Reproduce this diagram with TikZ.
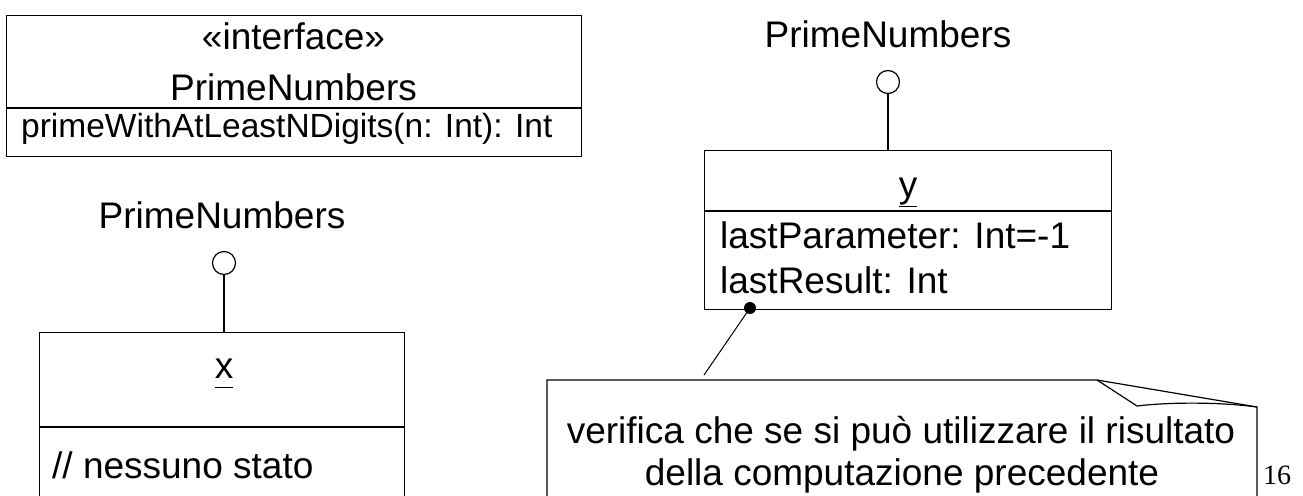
\documentclass[tikz,border=0pt]{standalone}
\usepackage{fontspec}
\setmainfont{Liberation Sans}
\newfontfamily\pagenumfont{Liberation Serif}
\newcommand\ulbox[1]{\setbox0\hbox{#1}\rlap{\rule[-0.27em]{\wd0}{1.3pt}}\box0}
\tikzset{
  box/.style={draw, line width=1.2pt, inner sep=0pt, anchor=north west},
  txt/.style={inner sep=0pt, anchor=base, font=\fontsize{37}{44}\selectfont},
  txtl/.style={txt, anchor=base west},
  small/.style={inner sep=0pt, anchor=base west, font=\fontsize{33.5}{40}\selectfont},
  ln/.style={line width=1.2pt},
  lolli/.style={circle, draw, line width=1.2pt, minimum size=23pt, inner sep=0pt},
}
\begin{document}
\begin{tikzpicture}[x=1pt, y=-1pt]
\clip (0,0) rectangle (1303,495);
\fill[white] (0,0) rectangle (1303,495);

% interface box
\node[box, minimum width=575pt, minimum height=141pt] (ibox) at (6,15) {};
\draw[ln] (6,108) -- (581,108);
\node[txt] (stereo) at (293.5,50) {«interface»};
\node[txt] (iname) at (293.5,100) {PrimeNumbers};
\node[small] (imeth) at (21,137) {primeWithAtLeastNDigits(n: Int): Int};

% object x
\node[txt] (xlabel) at (222,228) {PrimeNumbers};
\node[lolli] (xcirc) at (224,263) {};
\node[box, minimum width=365pt, minimum height=200pt] (xbox) at (39,332) {};
\coordinate (xtop) at (224,332);
\draw[ln] (xcirc.south) -- (xtop);
\draw[ln] (39,427) -- (404,427);
\node[txt] (xname) at (224,378) {\ulbox{x}};
\node[txtl] (xstate) at (52,478) {// nessuno stato};

% object y
\node[txt] (ylabel) at (888,48) {PrimeNumbers};
\node[lolli] (ycirc) at (888,82) {};
\node[box, minimum width=407pt, minimum height=159pt] (ybox) at (704,150) {};
\coordinate (ytop) at (888,150);
\draw[ln] (ycirc.south) -- (ytop);
\draw[ln] (704,211) -- (1111,211);
\node[txt] (yname) at (908,197) {\ulbox{y}};
\node[txtl] (yattr1) at (720,248) {lastParameter: Int=-1};
\node[txtl] (yattr2) at (720,293) {lastResult: Int};

% note
\draw[ln] (547,520) -- (547,380) -- (1097,380) -- (1257,407) -- (1257,520);
\draw[ln] (1097,380) -- (1137,406) .. controls (1170,402) and (1220,402) .. (1257,407);
\node[txt] (note1) at (901,443) {verifica che se si può utilizzare il risultato};
\node[txt] (note2) at (902,485) {della computazione precedente};
\node[circle, fill=black, minimum size=12pt, inner sep=0pt] (dot) at (750,308) {};
\coordinate (noteend) at (704,375);
\draw[line width=1pt] (dot.center) -- (noteend);

% page number
\node[inner sep=0pt, anchor=base, font=\pagenumfont\fontsize{28}{32}\selectfont] (pnum) at (1277,484) {16};
\end{tikzpicture}
\end{document}
